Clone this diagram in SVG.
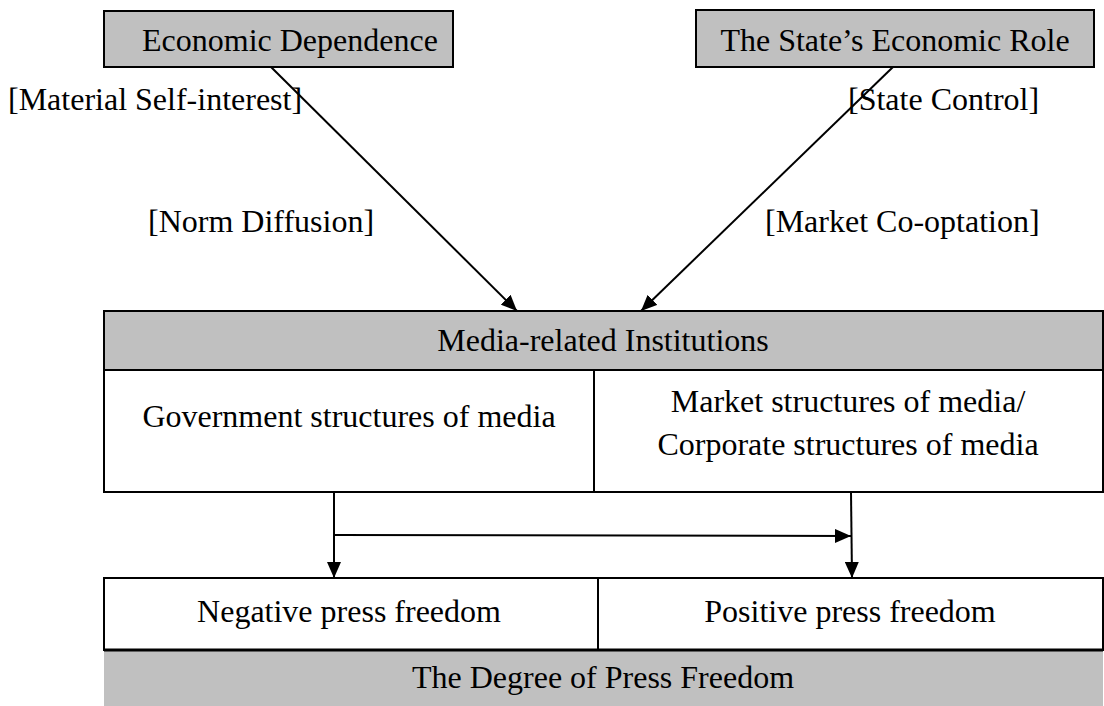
<svg xmlns="http://www.w3.org/2000/svg" width="1104" height="706" viewBox="0 0 1104 706">
<defs>
<style>
.t{font-family:"Liberation Serif","Times New Roman",serif;font-size:32px;fill:#000}
.c{text-anchor:middle}
.g{fill:#c0c0c0;stroke:#000;stroke-width:2}
.w{fill:#fff;stroke:#000;stroke-width:2}
.ln{stroke:#000;stroke-width:2;fill:none}
</style>
<marker id="ah" viewBox="0 0 16 14" refX="16" refY="7" markerWidth="16" markerHeight="14" markerUnits="userSpaceOnUse" orient="auto">
<path d="M0,0 L16,7 L0,14 Z" fill="#000"/>
</marker>
</defs>
<rect width="1104" height="706" fill="#fff"/>
<g id="econ-dep">
<rect class="g" x="104" y="11" width="349" height="56"/>
<text class="t" x="142" y="51">Economic Dependence</text>
</g>
<g id="state-role">
<rect class="g" x="696" y="10" width="398" height="57"/>
<text class="t c" x="895" y="51">The State’s Economic Role</text>
</g>
<g id="labels">
<text class="t" x="8" y="110">[Material Self-interest]</text>
<text class="t" x="148" y="232">[Norm Diffusion]</text>
<text class="t" x="848" y="110">[State Control]</text>
<text class="t" x="765" y="232">[Market Co-optation]</text>
</g>
<g id="media">
<rect class="g" x="104" y="311" width="999" height="59"/>
<text class="t c" x="603" y="351">Media-related Institutions</text>
<rect class="w" x="104" y="370" width="999" height="122"/>
<line class="ln" x1="594" y1="370" x2="594" y2="492"/>
<text class="t c" x="349" y="427">Government structures of media</text>
<text class="t c" x="848" y="412">Market structures of media/</text>
<text class="t c" x="848" y="455">Corporate structures of media</text>
</g>
<g id="press">
<rect class="w" x="104" y="578" width="999" height="72"/>
<line class="ln" x1="598" y1="578" x2="598" y2="650"/>
<text class="t c" x="349" y="622">Negative press freedom</text>
<text class="t c" x="850" y="622">Positive press freedom</text>
</g>
<g id="degree">
<rect x="104" y="650" width="999" height="60" fill="#c0c0c0"/>
<line x1="104" y1="650" x2="1103" y2="650" stroke="#000" stroke-width="3"/>
<text class="t c" x="603" y="688">The Degree of Press Freedom</text>
</g>
<g id="connectors">
<line class="ln" x1="271" y1="67" x2="517" y2="311" marker-end="url(#ah)"/>
<line class="ln" x1="893" y1="67" x2="641" y2="311" marker-end="url(#ah)"/>
<line class="ln" x1="334" y1="492" x2="334" y2="578" marker-end="url(#ah)"/>
<line class="ln" x1="851" y1="492" x2="852" y2="578" marker-end="url(#ah)"/>
<line class="ln" x1="334" y1="535" x2="851" y2="536" marker-end="url(#ah)"/>
</g>
</svg>
